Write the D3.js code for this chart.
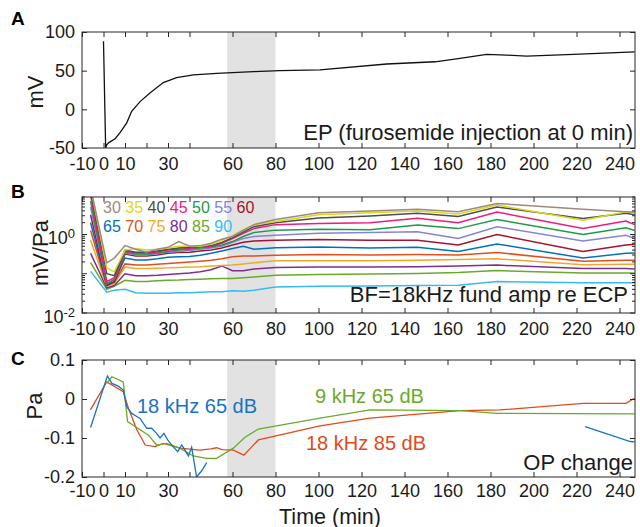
<!DOCTYPE html>
<html>
<head>
<meta charset="utf-8">
<script src="https://cdn.jsdelivr.net/npm/d3@7/dist/d3.min.js"></script>
<style>
  body { margin: 0; background: #fff; }
  svg { display: block; font-family: "Liberation Sans", Arial, Helvetica, sans-serif; }
</style>
</head>
<body>
<svg id="container" width="640" height="527"></svg>
<script>
// ---------- shared time axis ----------
const X_TICKS = [-10, 0, 10, 20, 30, 40, 60, 80, 100, 120, 140, 160, 180, 200, 220, 240];
const X_LABELS = [-10, 0, 10, 30, 60, 80, 100, 120, 140, 160, 180, 200, 220, 240];
const SHADE = [57.5, 80];

// ---------- A: EP (mV) ----------
const epTime = [0, 1, 1.5, 2.5, 5.4, 7.7, 10.8, 13.1, 17, 21.6, 27.8, 34, 41.8, 52.6, 69.7, 82, 100.7, 131.7, 154.2, 165.8, 178.2, 187.5, 196.8, 218.5, 247];
const epValue = [88, -50, -46, -43, -38, -30, -17.5, -2.5, 10, 21, 34.6, 41, 44.5, 46.6, 48.8, 50, 51, 58.6, 61.5, 65.9, 71, 70.1, 68.8, 71, 74.4];

// ---------- B: fundamental amplitude re ECP (mV/Pa) ----------
const ampTime = [-6, 1.5, 5, 10, 15, 20, 25, 30, 35, 40, 45, 50, 55, 60, 65, 70, 80, 100, 124, 146, 165, 183, 223, 243, 247];
const amp30 = [15.8, 0.19, 0.25, 0.52, 0.42, 0.355, 0.42, 0.47, 0.66, 0.50, 0.52, 0.60, 0.76, 0.89, 1.26, 1.78, 2.40, 3.55, 3.98, 4.37, 3.80, 6.17, 4.37, 3.80, 3.72];
const amp35 = [15.8, 0.141, 0.112, 0.40, 0.44, 0.40, 0.42, 0.45, 0.50, 0.50, 0.50, 0.56, 0.71, 0.93, 1.32, 1.78, 2.14, 3.16, 3.55, 3.98, 3.31, 5.62, 2.29, 3.80, 3.55];
const amp40 = [12.6, 0.100, 0.089, 0.40, 0.355, 0.355, 0.38, 0.42, 0.45, 0.47, 0.50, 0.52, 0.63, 0.83, 1.15, 1.58, 2.0, 2.63, 2.95, 3.47, 2.88, 5.01, 2.57, 3.47, 3.16];
const amp45 = [10, 0.063, 0.079, 0.38, 0.339, 0.339, 0.36, 0.40, 0.42, 0.44, 0.48, 0.50, 0.60, 0.79, 1.07, 1.41, 1.78, 1.91, 2.0, 2.57, 2.0, 3.72, 1.41, 2.19, 1.78];
const amp50 = [7.08, 0.056, 0.071, 0.355, 0.316, 0.316, 0.339, 0.37, 0.40, 0.42, 0.45, 0.48, 0.54, 0.66, 0.89, 1.12, 1.29, 1.35, 1.32, 1.74, 1.41, 2.40, 1.0, 1.48, 1.26];
const amp55 = [5.01, 0.056, 0.071, 0.339, 0.302, 0.302, 0.324, 0.355, 0.37, 0.39, 0.42, 0.45, 0.50, 0.63, 0.79, 0.89, 0.95, 1.07, 1.12, 1.17, 0.79, 1.58, 0.68, 0.95, 0.79];
const amp60 = [3.16, 0.052, 0.063, 0.316, 0.282, 0.282, 0.302, 0.331, 0.347, 0.355, 0.38, 0.40, 0.45, 0.54, 0.63, 0.68, 0.71, 0.74, 0.71, 0.71, 0.54, 1.0, 0.37, 0.54, 0.56];
const amp65 = [2.0, 0.050, 0.063, 0.251, 0.224, 0.224, 0.240, 0.263, 0.269, 0.275, 0.295, 0.331, 0.38, 0.44, 0.50, 0.42, 0.46, 0.48, 0.45, 0.47, 0.37, 0.575, 0.251, 0.331, 0.339];
const amp70 = [1.26, 0.050, 0.060, 0.178, 0.166, 0.166, 0.174, 0.182, 0.191, 0.200, 0.209, 0.219, 0.240, 0.269, 0.282, 0.282, 0.295, 0.309, 0.302, 0.309, 0.302, 0.347, 0.209, 0.219, 0.219];
const amp75 = [0.71, 0.048, 0.056, 0.148, 0.135, 0.135, 0.138, 0.141, 0.145, 0.148, 0.151, 0.158, 0.162, 0.166, 0.178, 0.191, 0.214, 0.214, 0.214, 0.219, 0.229, 0.240, 0.170, 0.174, 0.174];
const amp80 = [0.331, 0.044, 0.050, 0.100, 0.089, 0.089, 0.091, 0.095, 0.100, 0.105, 0.112, 0.126, 0.158, 0.120, 0.120, 0.132, 0.145, 0.148, 0.148, 0.151, 0.158, 0.166, 0.135, 0.135, 0.132];
const amp85 = [0.191, 0.040, 0.048, 0.068, 0.063, 0.063, 0.066, 0.068, 0.069, 0.071, 0.072, 0.074, 0.076, 0.076, 0.079, 0.083, 0.091, 0.095, 0.098, 0.102, 0.107, 0.120, 0.105, 0.105, 0.105];
const amp90 = [0.115, 0.034, 0.038, 0.040, 0.033, 0.032, 0.032, 0.032, 0.033, 0.033, 0.034, 0.035, 0.035, 0.037, 0.036, 0.038, 0.046, 0.048, 0.049, 0.050, 0.051, 0.063, 0.059, 0.059, 0.059];
const levels = [30, 35, 40, 45, 50, 55, 60, 65, 70, 75, 80, 85, 90];
const levelColors = ['#9c8a80', '#d8d81c', '#4d4d4d', '#ec1c7c', '#1f9a46', '#8484d8', '#a2142f',
  '#0072bd', '#e0501e', '#f0a826', '#7e2f8e', '#6aaa2a', '#36baf0'];
const ampSeries = [amp30, amp35, amp40, amp45, amp50, amp55, amp60, amp65, amp70, amp75, amp80, amp85, amp90];

// ---------- C: OP change (Pa) ----------
const op18k65Time = [-6, 1.8, 3.9, 6.9, 9.2, 10.8, 13.1, 15.5, 17, 20.1, 22.4, 24.7, 26.3, 28.1, 30.1, 32.4, 34.5, 36.4, 37.9, 39.5, 41, 43.3, 45.7, 48, 100, 224, 245, 247];
const op18k65 = [-0.073, 0.059, 0.040, 0.033, 0.023, -0.020, -0.037, -0.045, -0.050, -0.075, -0.075, -0.088, -0.100, -0.088, -0.107, -0.122, -0.135, -0.118, -0.131, -0.146, -0.124, -0.200, -0.184, -0.163, null, -0.071, -0.109, -0.110];
const op9k65Time = [1.5, 3.9, 9.2, 11.2, 17, 20.8, 24.7, 29.3, 35.5, 41.7, 47.9, 52.6, 60.4, 65.8, 72, 100.7, 124, 165.8, 182.9, 247];
const op9k65 = [0.040, 0.057, 0.044, -0.058, -0.079, -0.092, -0.118, -0.114, -0.126, -0.146, -0.152, -0.152, -0.126, -0.098, -0.077, -0.049, -0.028, -0.030, -0.037, -0.038];
const op18k85Time = [-6.1, 1.5, 9.2, 11.6, 15.5, 19.4, 24, 27.9, 35.5, 44.8, 50, 52.6, 55, 60.4, 65.3, 72, 100.7, 124, 165.8, 184.4, 223, 243, 247];
const op18k85 = [-0.028, 0.044, 0.019, -0.024, -0.079, -0.118, -0.122, -0.114, -0.126, -0.131, -0.128, -0.125, -0.130, -0.131, -0.144, -0.105, -0.069, -0.049, -0.030, -0.028, -0.011, -0.011, 0.002];

// ---------- layout ----------
const FONT = '"Liberation Sans", Arial, Helvetica, sans-serif';
const AXIS_COLOR = '#262626';
const LEFT = 82, RIGHT = 635;
const PANEL_A = { top: 32, bottom: 148, pad: 9.5 };
const PANEL_B = { top: 197, bottom: 313, pad: 9.5 };
const PANEL_C = { top: 360, bottom: 477, pad: 7.5 };

const svg = d3.select('#container');
const x = d3.scaleLinear().domain([-10, 247.2]).range([LEFT, RIGHT]);

const yA = d3.scaleLinear().domain([-50, 100]).range([PANEL_A.bottom, PANEL_A.top]);
const yB = d3.scaleLog().domain([0.01, 9]).range([PANEL_B.bottom, PANEL_B.top]);
const yC = d3.scaleLinear().domain([-0.2, 0.1]).range([PANEL_C.bottom, PANEL_C.top]);

function panelBase(id, p) {
  const g = svg.append('g').attr('class', 'panel-' + id);
  g.append('clipPath').attr('id', 'clip-' + id)
    .append('rect')
    .attr('x', LEFT).attr('y', p.top)
    .attr('width', RIGHT - LEFT).attr('height', p.bottom - p.top);
  g.append('rect')
    .attr('x', x(SHADE[0])).attr('y', p.top)
    .attr('width', x(SHADE[1]) - x(SHADE[0]))
    .attr('height', p.bottom - p.top)
    .attr('fill', '#e2e2e2');
  const plot = g.append('g').attr('clip-path', `url(#clip-${id})`);
  return { g, plot };
}

function styleAxis(sel, size) {
  sel.attr('font-family', FONT).attr('font-size', size).attr('color', AXIS_COLOR);
  sel.select('.domain').remove();
  sel.selectAll('text').attr('fill', '#1a1a1a');
}

function timeAxes(g, p) {
  g.append('g')
    .attr('transform', `translate(0,${p.bottom})`)
    .call(d3.axisBottom(x).tickValues(X_TICKS).tickSize(-5).tickPadding(p.pad)
      .tickFormat(d => X_LABELS.includes(d) ? d : ''))
    .call(a => styleAxis(a, 18));
  g.append('g')
    .attr('transform', `translate(0,${p.top})`)
    .call(d3.axisTop(x).tickValues(X_TICKS).tickSize(-5).tickFormat(''))
    .call(a => styleAxis(a, 18));
}

function linearYAxes(g, y, ticks, fmt) {
  g.append('g')
    .attr('transform', `translate(${LEFT},0)`)
    .call(d3.axisLeft(y).tickValues(ticks).tickSize(-5).tickPadding(7).tickFormat(fmt))
    .call(a => styleAxis(a, 18));
  g.append('g')
    .attr('transform', `translate(${RIGHT},0)`)
    .call(d3.axisRight(y).tickValues(ticks).tickSize(-5).tickFormat(''))
    .call(a => styleAxis(a, 18));
}

function frame(g, p) {
  g.append('rect')
    .attr('x', LEFT).attr('y', p.top)
    .attr('width', RIGHT - LEFT).attr('height', p.bottom - p.top)
    .attr('fill', 'none').attr('stroke', AXIS_COLOR).attr('stroke-width', 1);
}

function addText(txt, xp, yp, opts = {}) {
  return svg.append('text')
    .attr('x', xp).attr('y', yp)
    .attr('font-family', FONT)
    .attr('font-size', opts.size || 18)
    .attr('font-weight', opts.weight || 'normal')
    .attr('text-anchor', opts.anchor || 'start')
    .attr('fill', opts.color || '#1a1a1a')
    .text(txt);
}

function yLabel(txt, xp, yp) {
  svg.append('text')
    .attr('transform', `translate(${xp},${yp}) rotate(-90)`)
    .attr('text-anchor', 'middle')
    .attr('font-family', FONT)
    .attr('font-size', 22)
    .attr('fill', '#1a1a1a')
    .text(txt);
}

// ---------- panel A ----------
{
  const { g, plot } = panelBase('A', PANEL_A);
  const ep = epTime.map((t, i) => [t, epValue[i]]);
  plot.append('path')
    .datum(ep)
    .attr('fill', 'none')
    .attr('stroke', '#111')
    .attr('stroke-width', 1.3)
    .attr('d', d3.line().x(d => x(d[0])).y(d => yA(d[1])));
  timeAxes(g, PANEL_A);
  linearYAxes(g, yA, [-50, 0, 50, 100], d => d);
  frame(g, PANEL_A);
  addText('EP (furosemide injection at 0 min)', 633, 140, { size: 22, anchor: 'end' });
  addText('A', 11, 25, { size: 19, weight: 'bold', color: '#000' });
  yLabel('mV', 43, 92);
}

// ---------- panel B ----------
{
  const { g, plot } = panelBase('B', PANEL_B);
  const line = d3.line().x(d => x(d[0])).y(d => yB(d[1]));
  // draw quiet levels first so the louder ones sit on top like the original
  ampSeries.slice().reverse().forEach((vals, k) => {
    const i = ampSeries.length - 1 - k;
    plot.append('path')
      .datum(ampTime.map((t, j) => [t, vals[j]]))
      .attr('fill', 'none')
      .attr('stroke', levelColors[i])
      .attr('stroke-width', 1.5)
      .attr('d', line);
  });
  timeAxes(g, PANEL_B);

  // log ticks, inward on both sides
  const allTicks = yB.ticks();
  const isMajor = v => Math.abs(Math.log10(v) - Math.round(Math.log10(v))) < 1e-6;
  [LEFT, RIGHT].forEach(xp => {
    const dir = xp === LEFT ? 1 : -1;
    g.append('g').selectAll('line')
      .data(allTicks)
      .enter()
      .append('line')
      .attr('x1', xp)
      .attr('x2', d => xp + dir * (isMajor(d) ? 5 : 3))
      .attr('y1', d => yB(d))
      .attr('y2', d => yB(d))
      .attr('stroke', AXIS_COLOR)
      .attr('stroke-width', 1);
  });
  const bLabels = [[0.01, '-2'], [1, '0']];
  bLabels.forEach(([v, ex]) => {
    const t = g.append('text')
      .attr('x', 75).attr('y', yB(v) + 10)
      .attr('text-anchor', 'end')
      .attr('font-family', FONT)
      .attr('font-size', 18)
      .attr('fill', '#1a1a1a');
    t.append('tspan').text('10');
    t.append('tspan').attr('dy', '-0.5em').attr('font-size', 13).text(ex);
  });
  frame(g, PANEL_B);

  // level legend in two rows
  const rows = [levels.slice(0, 7), levels.slice(7)];
  rows.forEach((row, r) => {
    const t = g.append('text')
      .attr('x', 103).attr('y', 213 + r * 19)
      .attr('font-family', FONT)
      .attr('font-size', 16)
      .attr('xml:space', 'preserve');
    row.forEach((lv, j) => {
      t.append('tspan')
        .attr('fill', levelColors[levels.indexOf(lv)])
        .text((j > 0 ? ' ' : '') + lv);
    });
  });

  addText('BF=18kHz fund amp re ECP', 628, 302, { size: 22, anchor: 'end' });
  addText('B', 11, 198, { size: 19, weight: 'bold', color: '#000' });
  yLabel('mV/Pa', 48, 253);
}

// ---------- panel C ----------
{
  const { g, plot } = panelBase('C', PANEL_C);
  const line = d3.line().defined(d => d[1] != null).x(d => x(d[0])).y(d => yC(d[1]));
  const series = [
    { t: op18k85Time, v: op18k85, color: '#e24a1c' },
    { t: op9k65Time, v: op9k65, color: '#6aaa2a' },
    { t: op18k65Time, v: op18k65, color: '#1a72c4' }
  ];
  series.forEach(s => {
    plot.append('path')
      .datum(s.t.map((t, i) => [t, s.v[i]]))
      .attr('fill', 'none')
      .attr('stroke', s.color)
      .attr('stroke-width', 1.3)
      .attr('d', line);
  });
  timeAxes(g, PANEL_C);
  linearYAxes(g, yC, [-0.2, -0.1, 0, 0.1], d => d === 0 ? '0' : String(d));
  frame(g, PANEL_C);

  addText('18 kHz 65 dB', 137, 413, { size: 20, color: '#1a72c4' });
  addText('9 kHz 65 dB', 315, 403, { size: 20, color: '#6aaa2a' });
  addText('18 kHz 85 dB', 306, 450, { size: 20, color: '#e24a1c' });
  addText('OP change', 633, 470, { size: 22, anchor: 'end' });
  addText('C', 11, 365, { size: 19, weight: 'bold', color: '#000' });
  yLabel('Pa', 42, 406);
  addText('Time (min)', 330, 523.5, { size: 21.5, anchor: 'middle' });
}
</script>
</body>
</html>
